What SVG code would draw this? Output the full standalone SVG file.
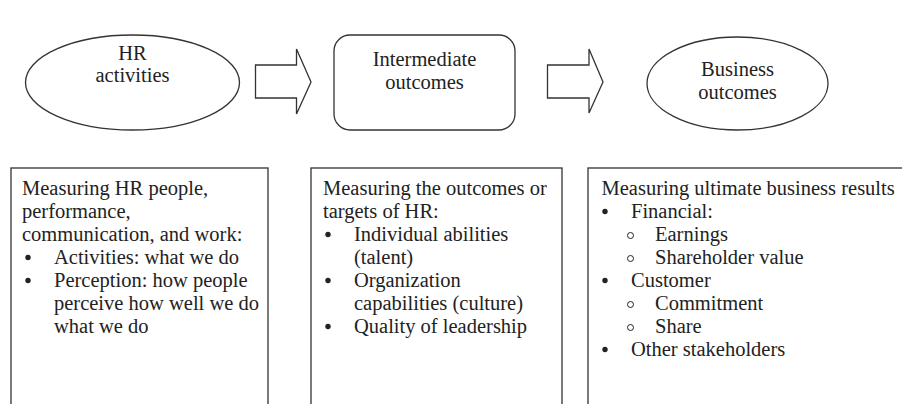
<svg xmlns="http://www.w3.org/2000/svg" width="902" height="404" viewBox="0 0 902 404">
  <style>
    .shape { fill: #ffffff; stroke: #333333; stroke-width: 1.3; }
    .label { font-family: "Liberation Serif", "Times New Roman", serif; font-size: 20.5px; fill: #222222; }
    .mid { text-anchor: middle; }
    .dot { fill: #222222; }
    .ring { fill: none; stroke: #222222; stroke-width: 1; }
  </style>
  <rect x="0" y="0" width="902" height="404" fill="#ffffff"/>

  <!-- Top row: flow stages -->
  <g id="hr-activities">
    <ellipse class="shape" cx="132.5" cy="82.5" rx="107" ry="47.5"/>
    <text class="label mid" x="132.5" y="60">HR</text>
    <text class="label mid" x="132.5" y="82">activities</text>
  </g>

  <g id="intermediate-outcomes">
    <rect class="shape" x="334" y="35" width="181" height="95" rx="16" ry="16"/>
    <text class="label mid" x="424.5" y="66">Intermediate</text>
    <text class="label mid" x="424.5" y="89">outcomes</text>
  </g>

  <g id="business-outcomes">
    <ellipse class="shape" cx="737.5" cy="83.5" rx="90.5" ry="46.5"/>
    <text class="label mid" x="737.5" y="76">Business</text>
    <text class="label mid" x="737.5" y="99">outcomes</text>
  </g>

  <!-- Block arrows between stages -->
  <g id="connectors">
    <polygon class="shape" points="255.5,65 296.5,65 296.5,49 311,82 296.5,114 296.5,98 255.5,98"/>
    <polygon class="shape" points="547.5,65 589,65 589,49 603,82 589,113 589,98 547.5,98"/>
  </g>

  <!-- Bottom row: measurement descriptions -->
  <g id="measure-hr">
    <rect class="shape" x="11" y="168" width="257" height="250"/>
    <text class="label" x="22" y="195">Measuring HR people,</text>
    <text class="label" x="22" y="218">performance,</text>
    <text class="label" x="22" y="241">communication, and work:</text>
    <circle class="dot" cx="28" cy="257.5" r="2.7"/>
    <text class="label" x="54" y="264">Activities: what we do</text>
    <circle class="dot" cx="28" cy="280.5" r="2.7"/>
    <text class="label" x="54" y="287">Perception: how people</text>
    <text class="label" x="54" y="310">perceive how well we do</text>
    <text class="label" x="54" y="333">what we do</text>
  </g>

  <g id="measure-intermediate">
    <rect class="shape" x="311" y="168" width="251" height="250"/>
    <text class="label" x="323" y="195">Measuring the outcomes or</text>
    <text class="label" x="323" y="218">targets of HR:</text>
    <circle class="dot" cx="328" cy="234.5" r="2.7"/>
    <text class="label" x="354" y="241">Individual abilities</text>
    <text class="label" x="354" y="264">(talent)</text>
    <circle class="dot" cx="328" cy="280.5" r="2.7"/>
    <text class="label" x="354" y="287">Organization</text>
    <text class="label" x="354" y="310">capabilities (culture)</text>
    <circle class="dot" cx="328" cy="326.5" r="2.7"/>
    <text class="label" x="354" y="333">Quality of leadership</text>
  </g>

  <g id="measure-business">
    <rect class="shape" x="588" y="168" width="330" height="250"/>
    <text class="label" x="601.5" y="195">Measuring ultimate business results</text>
    <circle class="dot" cx="605" cy="211.5" r="2.7"/>
    <text class="label" x="631" y="218">Financial:</text>
    <circle class="ring" cx="630.5" cy="235.5" r="3"/>
    <text class="label" x="655" y="241">Earnings</text>
    <circle class="ring" cx="630.5" cy="258.5" r="3"/>
    <text class="label" x="655" y="264">Shareholder value</text>
    <circle class="dot" cx="605" cy="280.5" r="2.7"/>
    <text class="label" x="631" y="287">Customer</text>
    <circle class="ring" cx="630.5" cy="304.5" r="3"/>
    <text class="label" x="655" y="310">Commitment</text>
    <circle class="ring" cx="630.5" cy="327.5" r="3"/>
    <text class="label" x="655" y="333">Share</text>
    <circle class="dot" cx="605" cy="349.5" r="2.7"/>
    <text class="label" x="631" y="356">Other stakeholders</text>
  </g>
</svg>
